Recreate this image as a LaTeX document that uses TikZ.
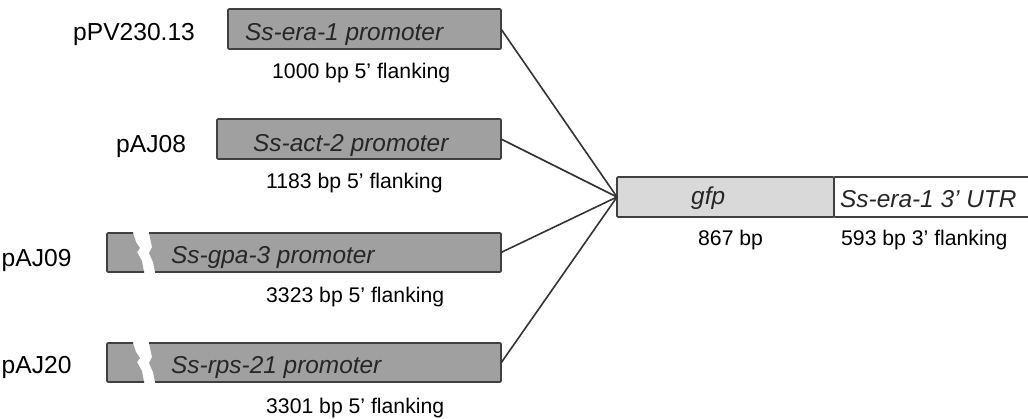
\documentclass[tikz,border=0pt]{standalone}
\usepackage{fontspec}
\setmainfont{Liberation Sans}
\definecolor{promfill}{RGB}{160,160,160}
\definecolor{gfpfill}{RGB}{217,217,217}
\definecolor{edge}{RGB}{64,64,64}
\definecolor{linec}{RGB}{51,51,51}
\definecolor{intext}{RGB}{38,38,38}
\newcommand{\brokenbox}[1]{%
  \fill[promfill] (107,#1) -- (133,#1) -- (136,{#1+9}) -- (140,{#1+15}) -- (137,{#1+19}) -- (142,{#1+28}) -- (144,{#1+39}) -- (107,{#1+39}) -- cycle;
  \fill[promfill] (149,#1) -- (501,#1) -- (501,{#1+39}) -- (155,{#1+39}) -- (153,{#1+29}) -- (149,{#1+20}) -- (152,{#1+14}) -- cycle;
  \draw[edgeline] (133,#1) -- (107,#1) -- (107,{#1+39}) -- (144,{#1+39});
  \draw[edgeline] (149,#1) -- (501,#1) -- (501,{#1+39}) -- (155,{#1+39});
}
\begin{document}
\begin{tikzpicture}[x=1pt,y=-1pt,
  edgeline/.style={draw=edge, line width=1.6pt, rounded corners=1pt},
  box/.style={edgeline, inner sep=0pt, outer sep=0pt, anchor=north west},
  prom/.style={box, fill=promfill},
  ghost/.style={inner sep=0pt, outer sep=0pt, anchor=north west},
  lbl/.style={anchor=base west, inner sep=0pt, font=\fontsize{24.6}{28}\selectfont},
  inbox/.style={anchor=base west, inner sep=0pt, font=\fontsize{24.4}{28}\selectfont\itshape, text=intext},
  size/.style={anchor=base west, inner sep=0pt, font=\fontsize{21.2}{25}\selectfont},
  conn/.style={draw=linec, line width=1.6pt}]
\useasboundingbox (0,0) rectangle (1028,418);
\begin{scope}
\clip (0,0) rectangle (1028,418);
% promoter boxes
\node[prom, minimum width=273pt, minimum height=40pt] (b1) at (228,9) {};
\node[prom, minimum width=284pt, minimum height=40pt] (b2) at (217,119) {};
\node[ghost, minimum width=394pt, minimum height=39pt] (b3) at (107,233) {};
\brokenbox{233}
\node[ghost, minimum width=394pt, minimum height=40pt] (b4) at (107,343) {};
\brokenbox{343}
% reporter
\node[box, fill=gfpfill, minimum width=217pt, minimum height=40pt] (gfp) at (617,177) {};
\node[box, fill=white, minimum width=210pt, minimum height=40pt] (utr) at (834,177) {};
\end{scope}
% connectors
\draw[conn] (b1.east) -- (gfp.west);
\draw[conn] (b2.east) -- (gfp.west);
\draw[conn] (b3.east) -- (gfp.west);
\draw[conn] (b4.east) -- (gfp.west);
% plasmid names
\node[lbl] (n1) at (73,40) {pPV230.13};
\node[lbl] (n2) at (116,152) {pAJ08};
\node[lbl] (n3) at (1.5,266) {pAJ09};
\node[lbl] (n4) at (1.5,373) {pAJ20};
% in-box texts
\node[inbox] (t1) at (245,40) {Ss-era-1 promoter};
\node[inbox] (t2) at (253,151) {Ss-act-2 promoter};
\node[inbox] (t3) at (171,263) {Ss-gpa-3 promoter};
\node[inbox] (t4) at (171,373) {Ss-rps-21 promoter};
\node[inbox] (tg) at (691,204) {gfp};
\node[inbox] (tu) at (840,207) {Ss-era-1 3’ UTR};
% sizes
\node[size] (s1) at (272,78) {1000 bp 5’ flanking};
\node[size] (s2) at (266,188) {1183 bp 5’ flanking};
\node[size] (s3) at (266,302) {3323 bp 5’ flanking};
\node[size] (s4) at (266,413) {3301 bp 5’ flanking};
\node[size] (sg) at (698,245) {867 bp};
\node[size] (su) at (841,245) {593 bp 3’ flanking};
\end{tikzpicture}
\end{document}
